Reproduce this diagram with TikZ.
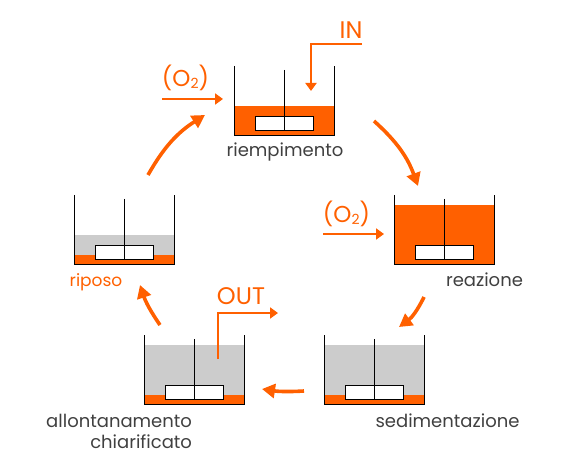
\documentclass[tikz,border=0pt]{standalone}
\usepackage{fontspec}
\setmainfont{Poppins}
\usetikzlibrary{arrows.meta}
\definecolor{sbrorange}{HTML}{FF6000}
\definecolor{sbrgray}{HTML}{CCCCCC}
\definecolor{sbrtext}{HTML}{404040}
\tikzset{
  wall/.style={black,line width=1pt},
  cycle arrow/.style={sbrorange,line width=3.6pt,-{Triangle[length=13pt,width=14pt]}},
  flow arrow/.style={sbrorange,line width=2pt,-{Triangle[length=8pt,width=11pt]}},
  lab/.style={anchor=base,inner sep=0pt,outer sep=0pt,font=\fontsize{18}{21}\selectfont,text=sbrtext},
  olab/.style={lab,text=sbrorange,font=\fontsize{17}{20}\selectfont},
  blab/.style={olab,font=\fontsize{24}{28}\selectfont},
  oxlab/.style={olab,font=\fontsize{23}{27}\selectfont},
}
% #1 left, #2 top, #3 gray top, #4 orange top
\newcommand{\tankdraw}[4]{%
  \fill[sbrgray] (#1,#3) rectangle (#1+100,#2+69.3);
  \fill[sbrorange] (#1,#4) rectangle (#1+100,#2+69.3);
  \fill[white] (#1+21,#2+50.3) rectangle (#1+79,#2+64.3);
  \draw[wall] (#1+21,#2+50.3) rectangle (#1+79,#2+64.3);
  \draw[wall] (#1+50,#2+4) -- (#1+50,#2+64.3);
  \draw[wall] (#1,#2) -- (#1,#2+69.3) -- (#1+100,#2+69.3) -- (#1+100,#2);
}
\newcommand{\oxy}{(O\raisebox{-1.5pt}{\fontsize{14}{14}\selectfont 2})}
\begin{document}
\begin{tikzpicture}[x=1pt,y=-1pt]
\useasboundingbox (0,0) rectangle (570,470);
\tankdraw{234.5}{66}{106}{106}
\tankdraw{394.5}{195}{205}{205}
\tankdraw{324.5}{335}{345}{395}
\tankdraw{144.5}{335}{345}{395}
\tankdraw{74.5}{195}{235}{255}

\node[lab] (riemp) at (285,156.5) {riempimento};
\node[lab] (reaz) at (484.5,286.5) {reazione};
\node[lab] (sedim) at (447.5,427) {sedimentazione};
\node[lab,anchor=base east] (allont) at (192,427) {allontanamento};
\node[lab,anchor=base east] (chiar) at (192,448) {chiarificato};
\node[olab] (rip) at (96,286.5) {riposo};
\node[blab] (inlab) at (351,38.3) {IN};
\node[blab] (outlab) at (241,305) {OUT};
\node[oxlab] (oxa) at (185.5,87) {\oxy};
\node[oxlab] (oxb) at (346.5,223) {\oxy};

\coordinate (a1s) at (148,175); \coordinate (a1e) at (205,115);
\coordinate (a2s) at (374,121); \coordinate (a2e) at (418,186);
\coordinate (a3s) at (424,297); \coordinate (a3e) at (399,327);
\coordinate (a4s) at (304,391); \coordinate (a4e) at (262,389);
\coordinate (a5s) at (160,325); \coordinate (a5e) at (140,285);
\draw[cycle arrow] (a1s) to[bend left=14] (a1e);
\draw[cycle arrow] (a2s) to[bend left=14] (a2e);
\draw[cycle arrow] (a3s) to[bend left=14] (a3e);
\draw[cycle arrow] (a4s) to[bend left=6] (a4e);
\draw[cycle arrow] (a5s) to[bend left=8] (a5e);

\coordinate (o1s) at (162,99); \coordinate (o1e) at (223,99);
\coordinate (o2s) at (323,234); \coordinate (o2e) at (384,234);
\draw[flow arrow] (o1s) -- (o1e);
\draw[flow arrow] (o2s) -- (o2e);
\coordinate (ins) at (362,44.5); \coordinate (inc) at (311,44.5); \coordinate (ine) at (311,91);
\draw[flow arrow] (ins) -- (inc) -- (ine);
\coordinate (outs) at (218,359); \coordinate (outc) at (218,313); \coordinate (oute) at (278,313);
\draw[flow arrow] (outs) -- (outc) -- (oute);
\end{tikzpicture}
\end{document}
